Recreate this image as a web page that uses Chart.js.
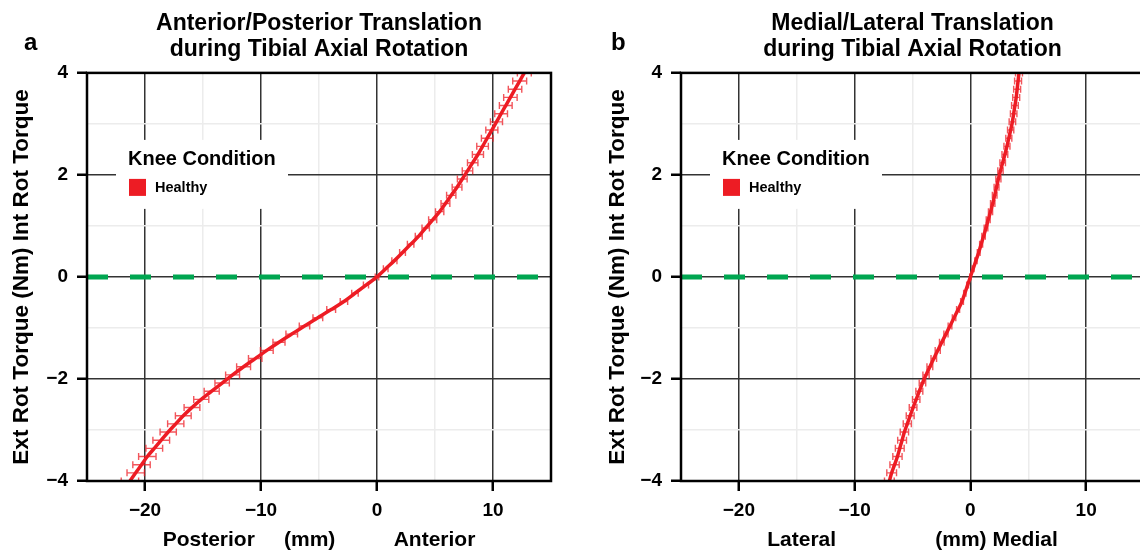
<!DOCTYPE html>
<html>
<head>
<meta charset="utf-8">
<script src="https://cdn.jsdelivr.net/npm/chart.js@4.4.1/dist/chart.umd.min.js"></script>
<style>
  html, body { margin: 0; padding: 0; background: #fff; overflow: hidden; }
  #wrap { position: relative; width: 1140px; height: 556px; overflow: hidden; }
  #apBox { position: absolute; left: 0; top: 0; width: 570px; height: 556px; }
  #mlBox { position: absolute; left: 570px; top: 0; width: 600px; height: 556px; }
</style>
</head>
<body>
<div id="wrap">
  <div id="apBox"><canvas id="apChart" width="570" height="556"></canvas></div>
  <div id="mlBox"><canvas id="mlChart" width="600" height="556"></canvas></div>
</div>
<script>
const torque = [-4, -3.84, -3.68, -3.52, -3.36, -3.2, -3.04, -2.88, -2.72, -2.56, -2.4, -2.24, -2.08,
    -1.92, -1.76, -1.6, -1.44, -1.28, -1.12, -0.96, -0.8, -0.64, -0.48, -0.32, -0.16, 0,
    0.16, 0.32, 0.48, 0.64, 0.8, 0.96, 1.12, 1.28, 1.44, 1.6, 1.76, 1.92, 2.08, 2.24, 2.4,
    2.56, 2.72, 2.88, 3.04, 3.2, 3.36, 3.52, 3.68, 3.84, 4];

// anterior(+)/posterior(-) translation, mm
const apShift = [-21.3, -20.8, -20.3, -19.8, -19.2, -18.6, -18.0, -17.35, -16.7, -15.95, -15.15, -14.25, -13.35,
    -12.45, -11.5, -10.5, -9.5, -8.45, -7.35, -6.25, -5.1, -3.95, -2.85, -1.9, -0.95, 0,
    0.75, 1.5, 2.2, 2.9, 3.6, 4.2, 4.8, 5.4, 5.9, 6.4, 6.9, 7.35, 7.8, 8.25, 8.7,
    9.1, 9.5, 9.9, 10.3, 10.7, 11.1, 11.5, 11.9, 12.3, 12.7];
const apErr = [0.75, 0.75, 0.75, 0.75, 0.72, 0.72, 0.7, 0.7, 0.68, 0.68, 0.65, 0.65, 0.62,
    0.6, 0.6, 0.58, 0.55, 0.52, 0.5, 0.45, 0.42, 0.38, 0.32, 0.28, 0.22, 0.15,
    0.2, 0.22, 0.25, 0.28, 0.3, 0.32, 0.35, 0.36, 0.38, 0.4, 0.42, 0.42, 0.45, 0.45, 0.48,
    0.5, 0.5, 0.52, 0.52, 0.55, 0.55, 0.58, 0.58, 0.6, 0.6];

// medial(+)/lateral(-) translation, mm
const mlShift = [-7.0, -6.8, -6.55, -6.3, -6.1, -5.9, -5.7, -5.45, -5.2, -4.95, -4.68, -4.41, -4.14,
    -3.83, -3.5, -3.16, -2.82, -2.47, -2.11, -1.76, -1.41, -1.06, -0.72, -0.48, -0.24, 0,
    0.24, 0.48, 0.72, 0.93, 1.14, 1.35, 1.54, 1.74, 1.93, 2.1, 2.26, 2.42, 2.6, 2.79, 2.98,
    3.16, 3.32, 3.48, 3.63, 3.74, 3.85, 3.96, 4.04, 4.12, 4.2];
const mlErr = [0.42, 0.42, 0.4, 0.4, 0.38, 0.38, 0.36, 0.35, 0.34, 0.33, 0.32, 0.3, 0.28,
    0.27, 0.25, 0.24, 0.22, 0.2, 0.18, 0.16, 0.15, 0.13, 0.12, 0.1, 0.08, 0.06,
    0.08, 0.1, 0.12, 0.13, 0.15, 0.16, 0.17, 0.18, 0.19, 0.2, 0.21, 0.22, 0.23, 0.24, 0.25,
    0.26, 0.26, 0.27, 0.28, 0.28, 0.29, 0.3, 0.3, 0.3, 0.3];

const xRange = [-25, 15];
const yRange = [-4, 4];
const xMajor = [-20, -10, 0, 10];
const yMajor = [-4, -2, 0, 2, 4];
const refLineX = [-25, 15];
const refLineY = [0, 0];

const FONT = "'Liberation Sans', Arial, Helvetica, sans-serif";
const RED = "#ED1C24";
const GREEN = "#00A651";

function fmt(v) {
    return v < 0 ? "\u2212" + Math.abs(v) : String(v);
}

const decor = {
    id: "decor",
    beforeDatasetsDraw(chart, args, opts) {
        const { ctx, chartArea: a, scales: { x, y } } = chart;
        const ds = chart.data.datasets[0];

        // legend box
        const bx = a.left + 29, by = a.top + 67;
        ctx.save();
        ctx.fillStyle = "#fff";
        ctx.fillRect(bx, by, 172, 69);
        ctx.fillStyle = "#000";
        ctx.font = "bold 20px " + FONT;
        ctx.textBaseline = "alphabetic";
        ctx.fillText("Knee Condition", bx + 12, by + 25);
        ctx.fillStyle = ds.borderColor;
        ctx.fillRect(bx + 13, by + 39, 17, 17);
        ctx.fillStyle = "#000";
        ctx.font = "bold 14.5px " + FONT;
        ctx.textBaseline = "middle";
        ctx.fillText(ds.label, bx + 39, by + 48);
        ctx.restore();

        // horizontal error bars
        ctx.save();
        ctx.beginPath();
        ctx.rect(a.left, a.top, a.right - a.left, a.bottom - a.top);
        ctx.clip();
        ctx.strokeStyle = "rgba(237,28,36,0.75)";
        ctx.lineWidth = 1.4;
        ds.data.forEach((p, i) => {
            const py = y.getPixelForValue(p.y);
            const x0 = x.getPixelForValue(p.x - ds.errors[i]);
            const x1 = x.getPixelForValue(p.x + ds.errors[i]);
            ctx.beginPath();
            ctx.moveTo(x0, py); ctx.lineTo(x1, py);
            ctx.moveTo(x0, py - 3.5); ctx.lineTo(x0, py + 3.5);
            ctx.moveTo(x1, py - 3.5); ctx.lineTo(x1, py + 3.5);
            ctx.stroke();
        });
        ctx.restore();
    },
    afterDatasetsDraw(chart) {
        const { ctx, chartArea: a } = chart;
        ctx.save();
        ctx.strokeStyle = "#000";
        ctx.lineWidth = 2.5;
        ctx.strokeRect(a.left, a.top, a.right - a.left, a.bottom - a.top);
        ctx.restore();
    },
    afterDraw(chart, args, opts) {
        const { ctx } = chart;
        ctx.save();
        ctx.fillStyle = "#000";
        ctx.font = "bold 24px " + FONT;
        ctx.textBaseline = "alphabetic";
        ctx.fillText(opts.tag, opts.tagX, 50);
        ctx.restore();
    }
};

function makeChart(canvasId, o) {
    const ctx = document.getElementById(canvasId);
    return new Chart(ctx, {
        type: "scatter",
        data: {
            datasets: [{
                label: "Healthy",
                data: torque.map((t, i) => ({ x: o.shift[i], y: t })),
                errors: o.err,
                showLine: true,
                borderColor: RED,
                backgroundColor: RED,
                borderWidth: 3.5,
                pointRadius: 0,
                cubicInterpolationMode: "monotone"
            }, {
                label: "zero",
                data: refLineX.map((v, i) => ({ x: v, y: refLineY[i] })),
                showLine: true,
                borderColor: GREEN,
                borderWidth: 5,
                borderDash: [21, 22],
                borderCapStyle: "butt",
                pointRadius: 0
            }]
        },
        options: {
            responsive: false,
            animation: false,
            devicePixelRatio: 1,
            layout: { padding: { left: o.padLeft, right: o.padRight, top: 0, bottom: 0 } },
            plugins: {
                legend: { display: false },
                tooltip: { enabled: false },
                title: {
                    display: true,
                    fullSize: false,
                    text: o.title,
                    color: "#000",
                    font: { family: FONT, size: 23, weight: "bold", lineHeight: 1.15 },
                    padding: { top: 10, bottom: 10 }
                },
                decor: { tag: o.tag, tagX: o.tagX }
            },
            scales: {
                x: {
                    type: "linear",
                    min: xRange[0],
                    max: xRange[1],
                    afterFit(scale) { scale.height = 75; },
                    border: { display: false },
                    grid: {
                        color: c => xMajor.includes(c.tick.value) ? "#333" : "#ececec",
                        lineWidth: 1.5,
                        tickColor: c => xMajor.includes(c.tick.value) ? "#000" : "rgba(0,0,0,0)",
                        tickLength: 10,
                        tickWidth: 2.5
                    },
                    ticks: {
                        stepSize: 5,
                        autoSkip: false,
                        maxRotation: 0,
                        padding: 8,
                        color: "#000",
                        font: { family: FONT, size: 19, weight: "bold" },
                        callback: v => xMajor.includes(v) ? fmt(v) : ""
                    },
                    title: {
                        display: true,
                        text: o.xTitle,
                        color: "#000",
                        font: { family: FONT, size: 21, weight: "bold" },
                        padding: { top: 0, bottom: 3 }
                    }
                },
                y: {
                    type: "linear",
                    min: yRange[0],
                    max: yRange[1],
                    afterFit(scale) { scale.width = o.yWidth; },
                    border: { display: false },
                    grid: {
                        color: c => yMajor.includes(c.tick.value) ? "#333" : "#ececec",
                        lineWidth: 1.5,
                        tickColor: c => yMajor.includes(c.tick.value) ? "#000" : "rgba(0,0,0,0)",
                        tickLength: 10,
                        tickWidth: 2.5
                    },
                    ticks: {
                        stepSize: 1,
                        autoSkip: false,
                        padding: 9,
                        color: "#000",
                        font: { family: FONT, size: 19, weight: "bold" },
                        callback: v => yMajor.includes(v) ? fmt(v) : ""
                    },
                    title: {
                        display: true,
                        text: "Ext Rot Torque (Nm) Int Rot Torque",
                        color: "#000",
                        font: { family: FONT, size: 22.5, weight: "bold" },
                        padding: { top: 8, bottom: 0 }
                    }
                }
            }
        },
        plugins: [decor]
    });
}

makeChart("apChart", {
    shift: apShift,
    err: apErr,
    title: ["Anterior/Posterior Translation", "during Tibial Axial Rotation"],
    xTitle: "Posterior     (mm)          Anterior",
    tag: "a",
    tagX: 24,
    padLeft: 0,
    padRight: 19,
    yWidth: 87
});

makeChart("mlChart", {
    shift: mlShift,
    err: mlErr,
    title: ["Medial/Lateral Translation", "during Tibial Axial Rotation"],
    xTitle: "Lateral                 (mm) Medial",
    tag: "b",
    tagX: 41,
    padLeft: 26,
    padRight: 26,
    yWidth: 85
});
</script>
</body>
</html>
